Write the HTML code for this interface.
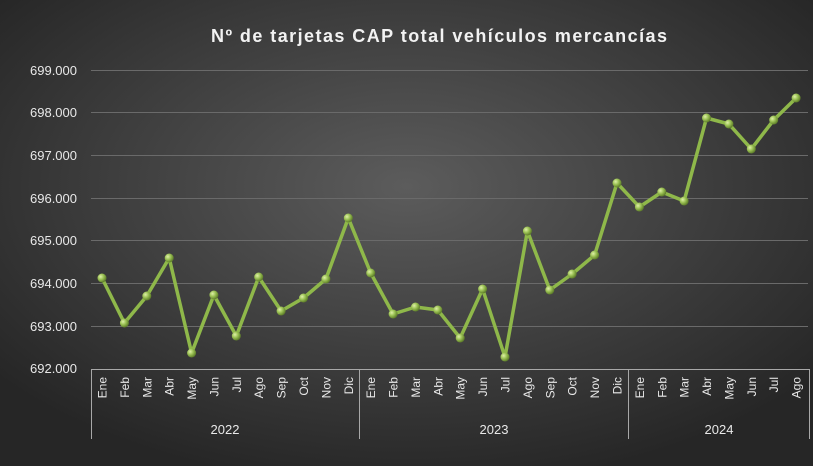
<!DOCTYPE html>
<html><head><meta charset="utf-8"><style>
html,body{margin:0;padding:0;background:#222;}
svg{display:block;font-family:"Liberation Sans",sans-serif;}
</style></head><body>
<svg width="813" height="466" viewBox="0 0 813 466" xmlns="http://www.w3.org/2000/svg">
<defs>
<radialGradient id="bg" cx="50%" cy="40%" r="65%">
<stop offset="0" stop-color="#5c5c5c"/><stop offset="1" stop-color="#262626"/>
</radialGradient>
<radialGradient id="dot" cx="35%" cy="35%" r="65%">
<stop offset="0" stop-color="#dff0a8"/><stop offset="0.5" stop-color="#9cc255"/><stop offset="1" stop-color="#5f7f2a"/>
</radialGradient>
</defs>
<rect width="813" height="466" fill="url(#bg)"/>
<text x="211" y="42" font-size="18" font-weight="bold" fill="#f2f2f2" textLength="456" lengthAdjust="spacing">Nº de tarjetas  CAP total vehículos mercancías</text>
<g stroke="#6a6a6a" stroke-width="1">
<line x1="91" x2="808" y1="70.5" y2="70.5"/><line x1="91" x2="808" y1="112.5" y2="112.5"/>
<line x1="91" x2="808" y1="155.5" y2="155.5"/><line x1="91" x2="808" y1="198.5" y2="198.5"/>
<line x1="91" x2="808" y1="240.5" y2="240.5"/><line x1="91" x2="808" y1="283.5" y2="283.5"/>
<line x1="91" x2="808" y1="326.5" y2="326.5"/>
</g>
<g stroke="#a8a8a8" stroke-width="1">
<line x1="91" x2="810" y1="369.5" y2="369.5"/>
<line x1="91.5" x2="91.5" y1="369" y2="439"/><line x1="359.5" x2="359.5" y1="369" y2="439"/>
<line x1="628.5" x2="628.5" y1="369" y2="439"/><line x1="809.5" x2="809.5" y1="369" y2="439"/>
</g>
<g font-size="13" fill="#e8e8e8" text-anchor="end">
<text x="77" y="75">699.000</text><text x="77" y="117">698.000</text><text x="77" y="160">697.000</text>
<text x="77" y="203">696.000</text><text x="77" y="245">695.000</text><text x="77" y="288">694.000</text>
<text x="77" y="331">693.000</text><text x="77" y="373">692.000</text>
</g>
<g font-size="13" fill="#e8e8e8" text-anchor="middle">
<text x="225" y="434">2022</text><text x="494" y="434">2023</text><text x="719" y="434">2024</text>
</g>
<g font-size="12" fill="#e8e8e8" text-anchor="end">
<text transform="translate(106.5,377) rotate(-90)">Ene</text>
<text transform="translate(128.9,377) rotate(-90)">Feb</text>
<text transform="translate(151.3,377) rotate(-90)">Mar</text>
<text transform="translate(173.7,377) rotate(-90)">Abr</text>
<text transform="translate(196.1,377) rotate(-90)">May</text>
<text transform="translate(218.4,377) rotate(-90)">Jun</text>
<text transform="translate(240.8,377) rotate(-90)">Jul</text>
<text transform="translate(263.2,377) rotate(-90)">Ago</text>
<text transform="translate(285.6,377) rotate(-90)">Sep</text>
<text transform="translate(308.0,377) rotate(-90)">Oct</text>
<text transform="translate(330.4,377) rotate(-90)">Nov</text>
<text transform="translate(352.8,377) rotate(-90)">Dic</text>
<text transform="translate(375.2,377) rotate(-90)">Ene</text>
<text transform="translate(397.6,377) rotate(-90)">Feb</text>
<text transform="translate(420.0,377) rotate(-90)">Mar</text>
<text transform="translate(442.3,377) rotate(-90)">Abr</text>
<text transform="translate(464.7,377) rotate(-90)">May</text>
<text transform="translate(487.1,377) rotate(-90)">Jun</text>
<text transform="translate(509.5,377) rotate(-90)">Jul</text>
<text transform="translate(531.9,377) rotate(-90)">Ago</text>
<text transform="translate(554.3,377) rotate(-90)">Sep</text>
<text transform="translate(576.6,377) rotate(-90)">Oct</text>
<text transform="translate(599.1,377) rotate(-90)">Nov</text>
<text transform="translate(621.5,377) rotate(-90)">Dic</text>
<text transform="translate(643.9,377) rotate(-90)">Ene</text>
<text transform="translate(666.3,377) rotate(-90)">Feb</text>
<text transform="translate(688.6,377) rotate(-90)">Mar</text>
<text transform="translate(711.0,377) rotate(-90)">Abr</text>
<text transform="translate(733.4,377) rotate(-90)">May</text>
<text transform="translate(755.8,377) rotate(-90)">Jun</text>
<text transform="translate(778.2,377) rotate(-90)">Jul</text>
<text transform="translate(800.6,377) rotate(-90)">Ago</text>
</g>
<polyline fill="none" stroke="#8fb84a" stroke-width="3.5" stroke-linejoin="round" points="102,278 124.4,323 146.8,296 169.2,258 191.6,353 213.9,295 236.3,336 258.7,277 281.1,311 303.5,298 325.9,279 348.3,218 370.7,273 393.1,314 415.5,307 437.8,310 460.2,338 482.6,289 505,357 527.4,231 549.8,290 572.1,274 594.6,255 617,183 639.4,207 661.8,192 684.1,201 706.5,118 728.9,124 751.3,149 773.7,120 796.1,98"/>
<g fill="url(#dot)">
<circle cx="102" cy="278" r="4.5"/><circle cx="124.4" cy="323" r="4.5"/><circle cx="146.8" cy="296" r="4.5"/>
<circle cx="169.2" cy="258" r="4.5"/><circle cx="191.6" cy="353" r="4.5"/><circle cx="213.9" cy="295" r="4.5"/>
<circle cx="236.3" cy="336" r="4.5"/><circle cx="258.7" cy="277" r="4.5"/><circle cx="281.1" cy="311" r="4.5"/>
<circle cx="303.5" cy="298" r="4.5"/><circle cx="325.9" cy="279" r="4.5"/><circle cx="348.3" cy="218" r="4.5"/>
<circle cx="370.7" cy="273" r="4.5"/><circle cx="393.1" cy="314" r="4.5"/><circle cx="415.5" cy="307" r="4.5"/>
<circle cx="437.8" cy="310" r="4.5"/><circle cx="460.2" cy="338" r="4.5"/><circle cx="482.6" cy="289" r="4.5"/>
<circle cx="505" cy="357" r="4.5"/><circle cx="527.4" cy="231" r="4.5"/><circle cx="549.8" cy="290" r="4.5"/>
<circle cx="572.1" cy="274" r="4.5"/><circle cx="594.6" cy="255" r="4.5"/><circle cx="617" cy="183" r="4.5"/>
<circle cx="639.4" cy="207" r="4.5"/><circle cx="661.8" cy="192" r="4.5"/><circle cx="684.1" cy="201" r="4.5"/>
<circle cx="706.5" cy="118" r="4.5"/><circle cx="728.9" cy="124" r="4.5"/><circle cx="751.3" cy="149" r="4.5"/>
<circle cx="773.7" cy="120" r="4.5"/><circle cx="796.1" cy="98" r="4.5"/>
</g>
</svg>
</body></html>
